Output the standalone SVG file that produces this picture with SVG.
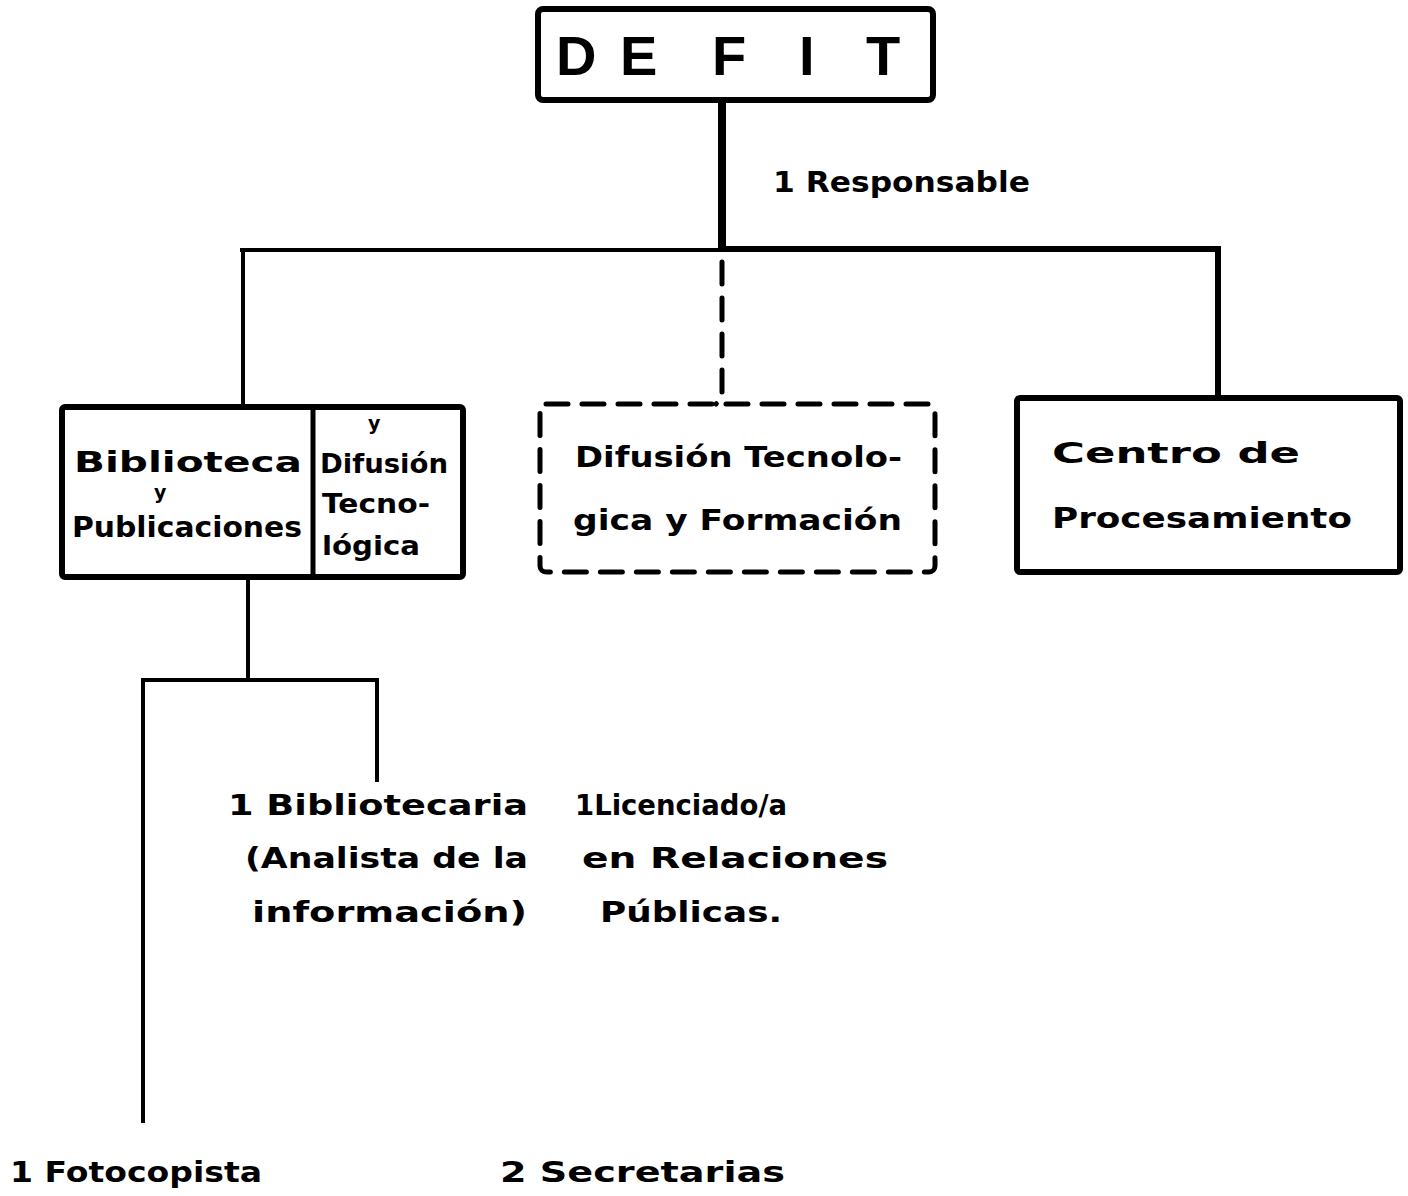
<svg xmlns="http://www.w3.org/2000/svg" width="1408" height="1196" viewBox="0 0 1408 1196">
<style>
.bg{fill:#fff}
.box{fill:none;stroke:#000;stroke-width:6;stroke-linejoin:round}
.dash{fill:none;stroke:#000;stroke-width:5;stroke-dasharray:22 14;stroke-linecap:round}
.ln{fill:none;stroke:#000;stroke-linecap:butt}
text{font-family:"DejaVu Sans","Liberation Sans",sans-serif;font-weight:bold;fill:#000}
.t{font-size:29px}
.s{font-size:26px}
.xs{font-size:19px}
.big{font-size:56px;font-family:"Liberation Sans","DejaVu Sans",sans-serif}
</style>
<rect class="bg" x="0" y="0" width="1408" height="1196"/>
<g id="connectors">
<line class="ln" x1="722" y1="100" x2="722" y2="250" stroke-width="8"/>
<line class="ln" x1="240" y1="250" x2="722" y2="250" stroke-width="4"/>
<line class="ln" x1="722" y1="249" x2="1221" y2="249" stroke-width="6"/>
<line class="ln" x1="243" y1="252" x2="243" y2="407" stroke-width="4"/>
<line class="ln" x1="1218" y1="249" x2="1218" y2="398" stroke-width="6"/>
<path class="dash" d="M722 262 V398 L716 404"/>
<line class="ln" x1="248" y1="577" x2="248" y2="680" stroke-width="4"/>
<line class="ln" x1="141" y1="680" x2="379" y2="680" stroke-width="4"/>
<line class="ln" x1="143" y1="680" x2="143" y2="1123" stroke-width="4"/>
<line class="ln" x1="377" y1="680" x2="377" y2="782" stroke-width="4"/>
</g>
<g id="defit">
<rect class="box" x="538" y="9" width="395" height="91" rx="5"/>
<text class="big" x="556" y="75">D</text>
<text class="big" x="620" y="75">E</text>
<text class="big" x="712" y="75">F</text>
<text class="big" x="799" y="75">I</text>
<text class="big" x="866" y="75">T</text>
</g>
<g id="responsable">
<text class="t" x="773" y="192" textLength="257" lengthAdjust="spacingAndGlyphs">1 Responsable</text>
</g>
<g id="biblioteca">
<rect class="box" x="62" y="407" width="401" height="170" rx="3"/>
<line class="ln" x1="313" y1="407" x2="313" y2="577" stroke-width="5"/>
<text class="t" x="74" y="472" textLength="228" lengthAdjust="spacingAndGlyphs">Biblioteca</text>
<text class="xs" x="154" y="499">y</text>
<text class="t" x="72" y="537" textLength="230" lengthAdjust="spacingAndGlyphs">Publicaciones</text>
<text class="xs" x="368" y="430">y</text>
<text class="s" x="320" y="473" textLength="128" lengthAdjust="spacingAndGlyphs">Difusión</text>
<text class="s" x="322" y="513" textLength="108" lengthAdjust="spacingAndGlyphs">Tecno-</text>
<text class="s" x="322" y="555" textLength="98" lengthAdjust="spacingAndGlyphs">lógica</text>
</g>
<g id="difusion">
<rect class="dash" x="540" y="404" width="395" height="168" rx="6"/>
<text class="t" x="575" y="467" textLength="327" lengthAdjust="spacingAndGlyphs">Difusión Tecnolo-</text>
<text class="t" x="573" y="530" textLength="329" lengthAdjust="spacingAndGlyphs">gica y Formación</text>
</g>
<g id="centro">
<rect class="box" x="1017" y="398" width="383" height="174" rx="3"/>
<text class="t" x="1052" y="463" textLength="248" lengthAdjust="spacingAndGlyphs">Centro  de</text>
<text class="t" x="1052" y="528" textLength="300" lengthAdjust="spacingAndGlyphs">Procesamiento</text>
</g>
<g id="bibliotecaria">
<text class="t" x="228" y="815" textLength="300" lengthAdjust="spacingAndGlyphs">1 Bibliotecaria</text>
<text class="t" x="245" y="868" textLength="283" lengthAdjust="spacingAndGlyphs">(Analista de la</text>
<text class="t" x="252" y="922" textLength="275" lengthAdjust="spacingAndGlyphs">información)</text>
</g>
<g id="licenciado">
<text class="t" x="575" y="815" textLength="212" lengthAdjust="spacingAndGlyphs">1Licenciado/a</text>
<text class="t" x="582" y="868" textLength="306" lengthAdjust="spacingAndGlyphs">en Relaciones</text>
<text class="t" x="600" y="922" textLength="182" lengthAdjust="spacingAndGlyphs">Públicas.</text>
</g>
<g id="fotocopista">
<text class="t" x="10" y="1182" textLength="252" lengthAdjust="spacingAndGlyphs">1 Fotocopista</text>
</g>
<g id="secretarias">
<text class="t" x="500" y="1182" textLength="285" lengthAdjust="spacingAndGlyphs">2 Secretarias</text>
</g>
</svg>
